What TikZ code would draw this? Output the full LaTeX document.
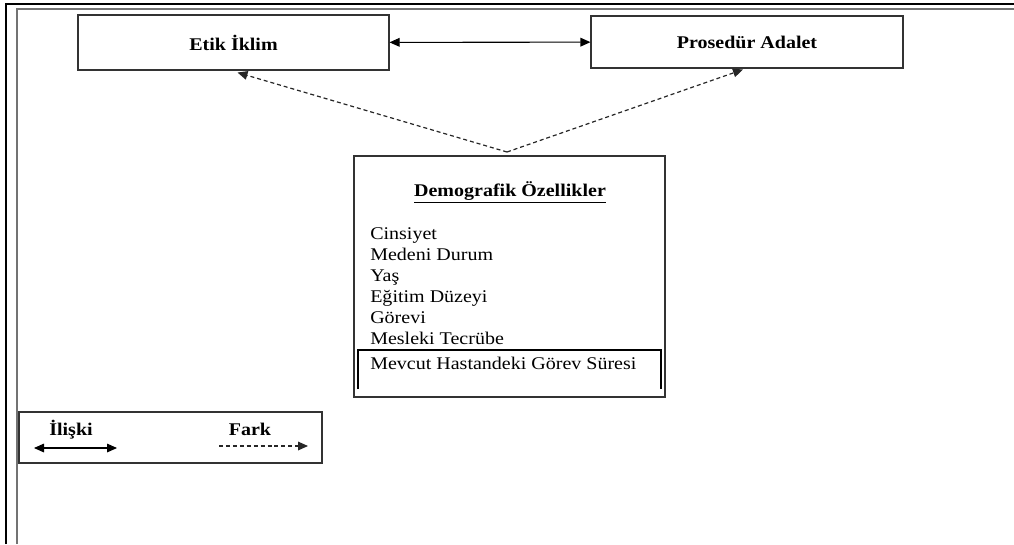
\documentclass[tikz,border=0pt]{standalone}
\usepackage{fontspec}
\setmainfont{Liberation Serif}[FakeStretch=1.12]
\usetikzlibrary{arrows.meta}

\begin{document}
\begin{tikzpicture}[x=0.75pt,y=-0.75pt,
  box/.style={draw=black!80,line width=0.8pt,inner sep=0pt,font=\fontsize{13.4pt}{16pt}\selectfont\bfseries},
  txt/.style={inner sep=0pt,font=\fontsize{13.4pt}{16pt}\selectfont},
  head/.tip={Triangle[length=7.5pt,width=6.5pt]},
  fark/.style={dash pattern=on 3pt off 2.2pt,line width=0.9pt,black!85}]
\useasboundingbox (0,0) rectangle (1014,544);

% frame
\draw [line width=1.5pt] (6,544)--(6,4)--(1014,4);
\draw [line width=1.5pt,black!55] (17,544)--(17,9)--(1014,9);

% nodes
\node [box,minimum width=233.25pt,minimum height=41.25pt] (etik) at (233.5,42.5) {Etik İklim};
\node [box,minimum width=234pt,minimum height=39pt] (pros) at (747,42) {Prosedür Adalet};
\node [box,minimum width=233.25pt,minimum height=180.75pt] (demo) at (509.5,276.5) {};
\coordinate (apex) at (507,152);

\node [txt,font=\fontsize{13.4pt}{16pt}\selectfont\bfseries,anchor=base] (title) at (510,196) {\underline{Demografik Özellikler}};
\foreach \t [count=\i] in {Cinsiyet,Medeni Durum,Yaş,Eğitim Düzeyi,Görevi,Mesleki Tecrübe}
  \node [txt,anchor=base west] (d\i) at (370,218+21*\i) {\t};
\node [txt,anchor=base west] (d7) at (370,369) {Mevcut Hastandeki Görev Süresi};
\draw [line width=1pt] (358,389)--(358,350)--(661,350)--(661,389);

% legend
\node [box,minimum width=227.25pt,minimum height=38.25pt] (legend) at (170.5,437.5) {};
\node [txt,font=\fontsize{13.4pt}{16pt}\selectfont\bfseries,anchor=base] (iliski) at (71,435) {İlişki};
\node [txt,font=\fontsize{13.4pt}{16pt}\selectfont\bfseries,anchor=base] (fark) at (250,435) {Fark};
\coordinate (i1) at (34,448);
\coordinate (i2) at (117,448);
\coordinate (f1) at (219,446);
\coordinate (f2) at (308,446);

% arrows
\draw [head-head,line width=0.8pt] (etik)--(pros);
\draw [-head,fark] (apex)--([shift={(4,2)}]etik.south);
\draw [-head,fark] (apex)--([shift={(-4,1)}]pros.south);
\draw [head-head,line width=0.8pt] (i1)--(i2);
\draw [-head,fark] (f1)--(f2);
\end{tikzpicture}
\end{document}
